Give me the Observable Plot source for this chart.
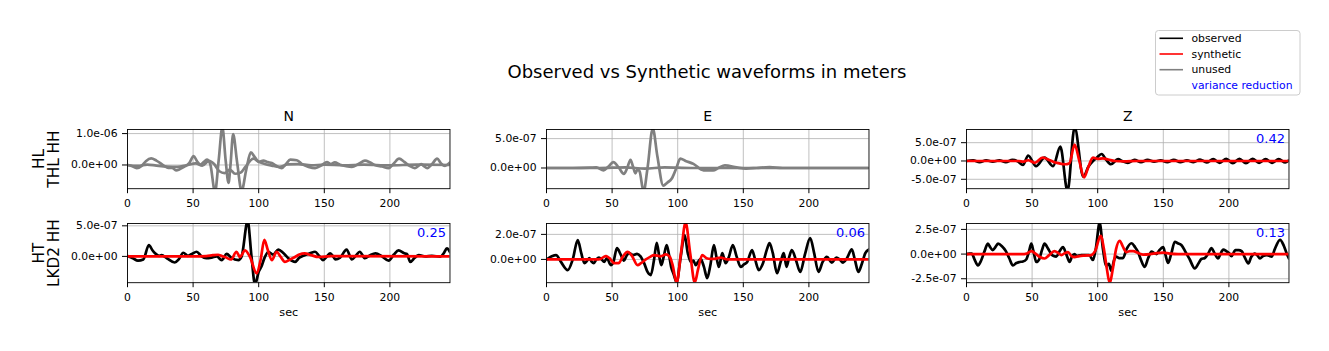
<!DOCTYPE html>
<html>
<head>
<meta charset="utf-8">
<script src="https://cdn.jsdelivr.net/npm/d3@7"></script>
<script src="https://cdn.jsdelivr.net/npm/@observablehq/plot@0.6"></script>
<style>
  body { margin: 0; background: #fff; font-family: "DejaVu Sans", sans-serif; }
  #fig { position: relative; width: 1329px; height: 351px; overflow: hidden; background: #fff; }
  #title { position: absolute; left: 707px; top: 63px; transform: translateX(-50%); font-size: 18px; line-height: 18px; white-space: nowrap; color: #000; }
</style>
</head>
<body>
<div id="fig"><div id="title">Observed vs Synthetic waveforms in meters</div></div>
<script>
// ---------- data (amplitudes in units of 1e-7 m, time in sec) ----------
const UNIT = 1e-7;
const T_MAX = 245.8;
const xTicks = [0, 50, 100, 150, 200];
const components = ["N", "E", "Z"];
const stations = ["HL\nTHL HH", "HT\nLKD2 HH"];
const legendLabels = ["observed", "synthetic", "unused", "variance reduction"];
const legendColors = ["#000000", "#ff0000", "#808080", null];

// HL THL HH, N (unused)
const thlN_obs = [[0,0],[3,-0.3],[7,-1.0],[11,-0.2],[14,1.2],[18,2.1],[22,1.4],[25,0.6],[28,-0.3],[31,-0.9],[34,-0.9],[37,-1.7],[40,-1.3],[44,-0.4],[47,0.6],[50.5,2.8],[53,1.2],[55.5,0.1],[58,0.9],[60.5,1.7],[63,0.4],[66.7,-8.5],[69.5,1.5],[72.3,12],[74.8,1.5],[77,-5.7],[78.5,0],[80.5,9.8],[83.5,1],[87,-8.2],[90.5,-1.5],[94,4.0],[97,2.5],[100,1.0],[103.5,1.4],[107,0.9],[110,0.6],[114,-0.4],[117.5,-1.0],[121,0.4],[124,1.7],[129,1.5],[133,0.3],[138,-0.6],[143,-1.0],[148,-0.1],[152,0.9],[155,0.3],[158,0.8],[162,0.1],[166,-0.3],[171,-0.6],[176,0.3],[181,1.4],[185,0.8],[189,-0.1],[194,-0.5],[199,-1.0],[203,0.5],[207,2.0],[211,1.0],[215,-0.3],[219,-1.0],[222,-0.2],[224,0.3],[226,-0.4],[228.5,-1.0],[232,0.2],[236,2.0],[239,0.5],[242,-0.3],[245.8,0.8]];
const thlN_syn = [[0,0],[8,-0.3],[15,0.1],[22,-0.2],[30,-0.5],[38,-0.6],[45,-0.1],[52,0.5],[57,-0.2],[62,1.3],[66,0.3],[70,-2.0],[74,-2.6],[78,-1.5],[82,-2.8],[86,-2.5],[90,-0.5],[96,2.0],[100,1.0],[104,0.4],[110,-0.2],[116,-0.6],[122,0.2],[130,0.3],[140,-0.1],[150,0.1],[165,-0.1],[180,0.1],[200,-0.1],[220,0.1],[245.8,0]];
// HL THL HH, E (unused)
const thlE_obs = [[0,0],[20,0],[33,0.05],[38,0.1],[43.5,-0.4],[47,0.2],[51,1.0],[55,0.1],[59,-1.0],[61.5,0],[64,1.4],[66,0.2],[67.7,-0.9],[69.5,-0.2],[71,-0.6],[74,-4.0],[77,0],[81,6.7],[84.5,2],[89,-3.0],[92,-2.5],[95.5,-1.8],[99,0],[102,1.6],[106,1.2],[112,0.7],[119.7,-0.4],[127,-0.4],[131,0.0],[136,0.45],[145,0.1],[152,-0.1],[160,0.0],[170,0.15],[180,0],[245.8,0]];
const thlE_syn = [[0,0],[40,0],[60,0.1],[75,-0.1],[90,0.1],[110,0],[245.8,0]];
// HL THL HH, Z
const thlZ_obs = [[0,0],[5,0.2],[10,-0.3],[15,0.2],[20,-0.2],[25,0.2],[30,-0.3],[35,0.3],[39,-0.1],[43,-1.1],[47,1.5],[53,-1.4],[59.5,0.9],[66,-1.4],[71.5,3.9],[77,-8.2],[82.4,9.2],[89,-4.3],[93,-1.5],[96.4,0],[99,0.8],[103,1.9],[106.5,0.3],[110,-0.9],[115.5,0.5],[119,-0.1],[123,-0.5],[128,0.3],[133,-0.3],[138,0.3],[143,-0.2],[148,0.2],[153,-0.3],[158,0.3],[163,-0.3],[168,0.2],[173,-0.3],[178,0.4],[183,-0.4],[188,0.5],[193,-0.5],[198,0.6],[203,-0.6],[208,0.6],[213,-0.6],[218,0.6],[223,-0.5],[228,0.5],[233,-0.5],[238,0.5],[243,-0.4],[245.8,0.2]];
const thlZ_syn = [[0,0],[40,0],[43,-0.2],[47,0.2],[52,-0.5],[58,0.9],[63,0.3],[66,-0.2],[70,-0.6],[75,-0.9],[78.5,-0.6],[82.4,4.5],[86,0],[89.6,-4.5],[93,-1.5],[96.4,0.9],[100,0.6],[104,0.7],[108,0.4],[113,0],[120,-0.1],[130,0],[245.8,0]];
// HT LKD2 HH, N
const lkdN_obs = [[0,0.05],[4,-0.3],[8,-0.7],[12,-0.5],[16.3,1.85],[19,1.0],[21,0.5],[24,0.1],[26,0.2],[30,-0.3],[36,-1.0],[39,-0.5],[42.5,0.6],[46,0.1],[49,0.4],[52.7,0.76],[56,0.1],[60,-0.3],[64,-0.2],[68,0],[71.8,-0.6],[75.6,0.4],[79,-0.2],[84.5,-0.6],[87,0],[91.6,5.8],[94.5,0],[97.2,-4.6],[100,-2.5],[102,-1.7],[104.5,-0.2],[107.4,0.76],[111,0.3],[115,1.1],[118.5,0.6],[122.6,-0.3],[127.7,-0.9],[131,-0.2],[135,0.2],[139,0.5],[143,0.76],[146,0.1],[149,-0.6],[152,0],[154.5,0.5],[157,-0.1],[158.5,-0.5],[162,-0.2],[167,1.1],[171,-0.5],[174,0.1],[177,0.76],[181,-0.3],[185,0.2],[189,0.5],[194,0],[199,-0.7],[203,0.3],[206.6,1.0],[211,0.5],[213,0.4],[215.5,-0.9],[219,-0.2],[222,0.2],[227,0],[232,0.1],[238.4,-0.05],[241,0.5],[243.5,1.3],[245.8,0.7]];
const lkdN_syn = [[0,0],[50,0],[60,0.05],[65,0.2],[69,0.27],[72,0.05],[74.3,-0.1],[79,-0.5],[83,0.76],[85.7,-0.1],[89.6,1.0],[93.4,-0.1],[98.5,-2.8],[101.5,-0.5],[104.3,2.7],[107,1.0],[110,-0.6],[113.7,0.76],[116.5,0],[120,-0.9],[124,-0.5],[127.7,-0.1],[131,0.3],[135,0.5],[140,0.2],[145.5,-0.1],[155,0.05],[245.8,0]];
// HT LKD2 HH, E
const lkdE_obs = [[0,0],[4,0.25],[7.3,0.35],[11,-0.2],[16.2,-0.85],[20,0],[23.8,1.55],[26.5,0.5],[28.9,-0.3],[31,-0.1],[32.7,0.1],[34.5,-0.2],[36,-0.3],[38,0],[40,0.15],[42,0],[44,-0.2],[46,0.1],[49,-0.45],[51,-0.2],[53.7,0.9],[56.5,0.4],[59,-0.1],[61,0.3],[63,0.5],[66,0.35],[69,0.45],[72,0.2],[74.4,-0.3],[77,-1.0],[79.5,-1.25],[82,0],[84,1.33],[86,0.2],[87.5,-0.45],[89.5,0.3],[91.6,1.15],[93.5,0.3],[95,-0.6],[97,-1.2],[99.2,-1.85],[102,0],[105.3,1.95],[107.5,0.6],[110,-0.2],[112,-0.1],[113.7,-0.45],[115.5,-0.2],[117.5,0.05],[120,-0.6],[122.5,-1.5],[125,-0.4],[127.6,1.15],[129.5,0.2],[131.4,-0.6],[134,0.5],[136.5,-0.3],[139,0.2],[142,1.15],[145,0.2],[148,-0.6],[150.5,-0.4],[153,-0.2],[156.7,0.75],[159,0],[161.8,-0.85],[165,-0.3],[168,0.8],[170,1.3],[172.5,0.5],[175.7,-1.1],[178.5,-0.2],[180.8,0.5],[183,-0.6],[185,0.2],[187,0.75],[190,0],[193.4,-1.0],[197,0.4],[201,1.7],[204,0.5],[207.3,-1.0],[210.5,-0.2],[213.7,0.2],[217.5,-0.25],[221,0.15],[223.5,0],[226,-0.25],[229,0.1],[232.7,0.8],[235,0],[237.7,-1.0],[240.5,-0.3],[243,0.5],[245.8,0.8]];
const lkdE_syn = [[0,0],[40,0],[45.3,0.27],[48,0.1],[51.6,-0.3],[55,-0.3],[58,0.2],[61.8,0.6],[65,0.3],[69.4,-0.45],[72,-0.3],[75.7,0],[79,0.2],[82,0.35],[87,0.25],[91,0.4],[94,0.2],[96,-0.4],[99.2,-1.85],[102.5,0.5],[106,2.95],[109.5,0.5],[113,-1.85],[115.5,-0.8],[118.7,0.35],[122,0.1],[125,0.05],[128,0.05],[132.6,0.15],[138,0],[245.8,0]];
// HT LKD2 HH, Z
const lkdZ_obs = [[0,0],[2,0.05],[4,0.05],[6,-0.5],[8.7,-1.15],[11,-0.7],[13.5,0.2],[16.3,1.05],[18,0.7],[20,0.4],[22,0.7],[24,1.05],[27,0.8],[30,0.3],[32.5,-0.4],[35.4,-1.15],[38,-0.9],[40.5,-0.8],[43,-0.75],[45.5,-0.55],[47.5,0.2],[49.4,1.05],[51,0.3],[53.2,-0.8],[55.5,-0.5],[57.5,0.4],[59.5,1.05],[62,0.6],[64.6,0],[66.5,-0.2],[68.4,-0.25],[71,0.3],[73.5,0.7],[76,0],[78.6,-0.8],[80.5,-0.2],[82.4,0],[84,-0.2],[87.5,-0.1],[91,-0.1],[93.5,-0.1],[96.4,-0.6],[98.5,0.5],[101.5,3.15],[104,0.5],[106.6,-1.2],[108.5,-1.0],[110.4,-1.7],[112.5,-0.6],[114,-0.25],[116.5,-0.4],[119.3,-0.4],[122,0.5],[125.7,1.1],[128.5,0.7],[130.8,0.2],[133,-0.6],[135.8,-1.3],[138.5,-0.4],[141,0.25],[143,0.1],[144.8,0],[147,0.4],[149.9,0.7],[151.5,0],[153.7,-0.9],[156,0],[158.8,1.25],[161,1.1],[163.9,0.9],[167,0.2],[170,-0.5],[174,-1.45],[177,-0.9],[179,-0.5],[181.7,-0.4],[184,0],[186.8,0.6],[189,0.1],[191.8,-0.45],[193.5,0],[195.7,0.45],[198,0.3],[200,0.1],[202,-0.2],[205,0.4],[207.5,0.4],[209.7,0.3],[212,-0.3],[214.8,-0.95],[217,-0.3],[219.8,0.05],[221.5,-0.1],[223.7,-0.45],[226,-0.2],[228.8,-0.1],[231,-0.2],[232.6,-0.25],[235,0.5],[239,1.45],[242,0.8],[244.5,-0.1],[245.8,-0.45]];
const lkdZ_syn = [[0,0],[44,0],[46,0.05],[49.4,0.3],[53,0],[56,-0.3],[59.5,-0.45],[63,-0.1],[67,0.3],[70,0.1],[72.3,-0.1],[75,0.1],[77.4,0.2],[80,-0.2],[82.4,-0.3],[86,-0.2],[90,-0.15],[95,-0.1],[98,0.3],[102.3,1.85],[105,0.3],[107,-1.5],[109.2,-2.95],[111.5,-1.5],[114,0.5],[116.8,1.35],[119,0.8],[121.9,0.2],[124.5,0.3],[127,0.3],[131,0.1],[134.6,-0.05],[140,0],[145,0.1],[150,0.15],[155,0.05],[161.3,0],[245.8,0]];

const observedSeries = [thlN_obs, thlE_obs, thlZ_obs, lkdN_obs, lkdE_obs, lkdZ_obs];
const syntheticSeries = [thlN_syn, thlE_syn, thlZ_syn, lkdN_syn, lkdE_syn, lkdZ_syn];
const componentUsed = [false, false, true, true, true, true];
const yDomains = [[-7.55, 11.3], [-3.52, 6.55], [-7.57, 8.6], [-4.3, 5.38], [-1.86, 2.87], [-2.9, 3.1]];
const yTicks = [[0, 10], [0, 5], [-5, 0, 5], [0, 5], [0, 2], [-2.5, 0, 2.5]];
const varianceReduction = [null, null, 0.42, 0.25, 0.06, 0.13];

// ---------- drawing ----------
function sci(v) {
  if (Math.abs(v) < 1e-20) return "0.0e+00";
  const [m, e] = v.toExponential(1).split("e");
  const sign = e[0] === "-" ? "-" : "+";
  return m + "e" + sign + String(Math.abs(+e)).padStart(2, "0");
}

const fig = document.getElementById("fig");
const COL_LEFT = [126.5, 546, 966];
const ROW_TOP = [129.2, 223.4];
const PW = 322.5, PH = 59.2;
const ML = 115, MR = 12, MT = 28, MB = 42;

observedSeries.forEach((obs, i) => {
  const row = Math.floor(i / 3), col = i % 3;
  const used = componentUsed[i];
  const obsColor = used ? "#000000" : "#808080";
  const synColor = used ? "#ff0000" : "#808080";
  const marks = [
    Plot.ruleX(xTicks, {x: d => d, stroke: "#b0b0b0", strokeWidth: 0.8}),
    Plot.ruleY(yTicks[i], {y: d => d, stroke: "#b0b0b0", strokeWidth: 0.8}),
    Plot.line(obs, {x: d => d[0], y: d => d[1], stroke: obsColor, strokeWidth: 2.7, curve: "monotone-x", clip: true, strokeLinejoin: "round"}),
    Plot.line(syntheticSeries[i], {x: d => d[0], y: d => d[1], stroke: synColor, strokeWidth: 2.7, curve: "monotone-x", clip: true, strokeLinejoin: "round"}),
    Plot.frame({stroke: "#000", strokeWidth: 0.9})
  ];
  if (row === 0) marks.push(Plot.text([components[col]], {text: d => d, frameAnchor: "top", dy: -13, fontSize: 14, lineAnchor: "middle", fill: "#000"}));
  if (col === 0) marks.push(Plot.text([stations[row]], {text: d => d, frameAnchor: "left", dx: -81, rotate: -90, fontSize: 15.3, lineHeight: 0.98, lineAnchor: "middle", textAnchor: "middle", fill: "#000"}));
  if (row === 1) marks.push(Plot.text(["sec"], {text: d => d, frameAnchor: "bottom", dy: 30, fontSize: 11.2, lineAnchor: "middle", fill: "#000"}));
  if (varianceReduction[i] != null) marks.push(Plot.text([varianceReduction[i]], {text: d => d.toFixed(2), frameAnchor: "top-right", dx: -4, dy: 9.5, textAnchor: "end", lineAnchor: "middle", fill: "#0000ff", fontSize: 13}));

  const chart = Plot.plot({
    width: ML + PW + MR,
    height: MT + PH + MB,
    marginLeft: ML, marginRight: MR, marginTop: MT, marginBottom: MB,
    style: {fontFamily: "DejaVu Sans", fontSize: "10.8px", background: "transparent", color: "#000", overflow: "visible"},
    x: {domain: [0, T_MAX], ticks: xTicks, tickFormat: d => String(d), tickSize: 5, tickPadding: 6, label: null},
    y: {domain: yDomains[i], ticks: yTicks[i], tickFormat: d => sci(d * UNIT), tickSize: 5, tickPadding: 5, label: null},
    marks
  });
  chart.style.position = "absolute";
  chart.style.left = (COL_LEFT[col] - ML) + "px";
  chart.style.top = (ROW_TOP[row] - MT) + "px";
  fig.appendChild(chart);
});

// legend
const lg = d3.select(fig).append("svg")
  .attr("width", 160).attr("height", 75)
  .style("position", "absolute").style("left", "1150px").style("top", "25px")
  .style("font-family", "DejaVu Sans");
lg.append("rect").attr("x", 5.5).attr("y", 5.5).attr("width", 144.5).attr("height", 64.5)
  .attr("rx", 3).attr("fill", "#fff").attr("fill-opacity", 0.8).attr("stroke", "#cccccc");
legendLabels.forEach((lab, k) => {
  const y = 13.3 + k * 15.7;
  if (legendColors[k]) lg.append("line").attr("x1", 9.5).attr("x2", 33).attr("y1", y).attr("y2", y)
    .attr("stroke", legendColors[k]).attr("stroke-width", 1.6);
  lg.append("text").attr("x", 41.5).attr("y", y).attr("dy", "0.35em").attr("font-size", 10.8)
    .attr("fill", legendColors[k] ? "#000" : "#0000ff").text(lab);
});
</script>
</body>
</html>
